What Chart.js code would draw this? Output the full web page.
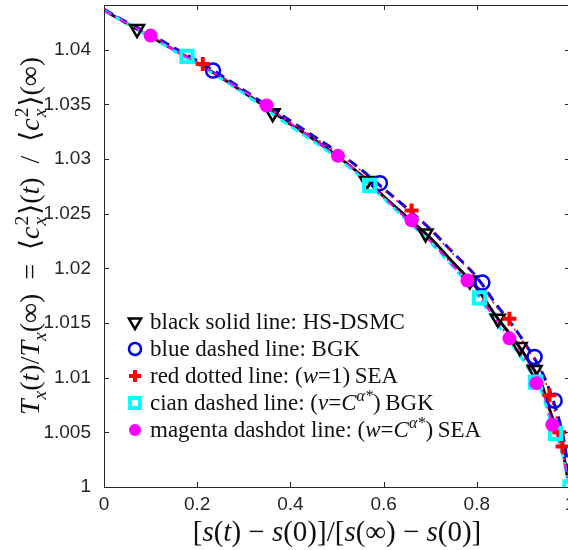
<!DOCTYPE html>
<html>
<head>
<meta charset="utf-8">
<script src="https://cdn.jsdelivr.net/npm/chart.js@4/dist/chart.umd.min.js"></script>
<style>
  html, body { margin: 0; padding: 0; background: #fff; overflow: hidden; }
  canvas { display: block; }
</style>
</head>
<body>
<canvas id="temp-chart" width="572" height="550"></canvas>
<script>
// s-axis samples for the five curves
const S_GRID = [0, 0.05, 0.1, 0.15, 0.2, 0.25, 0.3, 0.35, 0.4, 0.45, 0.5, 0.55, 0.6, 0.65, 0.7, 0.75, 0.8, 0.84, 0.88, 0.91, 0.94, 0.96, 0.975, 0.985, 0.992, 1];

// T_x(t)/T_x(inf)
const HS_DSMC = [1.0436, 1.0424, 1.0412, 1.0400, 1.0388, 1.0375, 1.0361, 1.0347, 1.0332, 1.0318, 1.0303, 1.0286, 1.0266, 1.0247, 1.0228, 1.0205, 1.0182, 1.0157, 1.0135, 1.0116, 1.0093, 1.0066, 1.0048, 1.0033, 1.0015, 1.0000];
const BGK = [1.0437, 1.0425, 1.0414, 1.0402, 1.0390, 1.0377, 1.0363, 1.0349, 1.0335, 1.0321, 1.0307, 1.0291, 1.0273, 1.0255, 1.0236, 1.0214, 1.0192, 1.0168, 1.0146, 1.0127, 1.0105, 1.0084, 1.0064, 1.0047, 1.0029, 1.0000];
const SEA_W1 = [1.0437, 1.0425, 1.0413, 1.0401, 1.0389, 1.0376, 1.0362, 1.0348, 1.0334, 1.0320, 1.0306, 1.0290, 1.0272, 1.0254, 1.0235, 1.0213, 1.0191, 1.0166, 1.0145, 1.0126, 1.0104, 1.0080, 1.0056, 1.0038, 1.0022, 1.0000];
const BGK_CA = [1.0436, 1.0424, 1.0412, 1.0399, 1.0387, 1.0374, 1.0360, 1.0345, 1.0330, 1.0316, 1.0301, 1.0284, 1.0264, 1.0244, 1.0224, 1.0201, 1.0176, 1.0151, 1.0128, 1.0109, 1.0086, 1.0058, 1.0042, 1.0028, 1.0012, 1.0000];
const SEA_CA = [1.0436, 1.0424, 1.0413, 1.0400, 1.0388, 1.0375, 1.0362, 1.0348, 1.0333, 1.0318, 1.0303, 1.0286, 1.0265, 1.0245, 1.0225, 1.0202, 1.0178, 1.0153, 1.0131, 1.0112, 1.0089, 1.0061, 1.0044, 1.0030, 1.0013, 1.0000];

// marker positions
const HS_MARK_S = [0.071, 0.362, 0.564, 0.69, 0.785, 0.845, 0.892, 0.924];
const HS_MARK_T = [1.0419, 1.0342, 1.0280, 1.0232, 1.0189, 1.0154, 1.0128, 1.0107];
const BGK_MARK_S = [0.234, 0.592, 0.812, 0.924, 0.967];
const BGK_MARK_T = [1.0381, 1.0278, 1.0187, 1.0119, 1.0079];
const SEA_W1_MARK_S = [0.212, 0.66, 0.87, 0.956, 0.977, 0.984];
const SEA_W1_MARK_T = [1.0387, 1.0253, 1.0154, 1.0084, 1.0050, 1.0037];
const BGK_CA_MARK_S = [0.178, 0.57, 0.806, 0.926, 0.969, 1.0];
const BGK_CA_MARK_T = [1.0394, 1.0276, 1.0173, 1.0096, 1.0049, 1.0000];
const SEA_CA_MARK_S = [0.1, 0.349, 0.502, 0.66, 0.78, 0.87, 0.928, 0.962];
const SEA_CA_MARK_T = [1.0413, 1.0349, 1.0303, 1.0244, 1.0189, 1.0136, 1.0095, 1.0057];

const X_TICKS = [0, 0.2, 0.4, 0.6, 0.8, 1];
const Y_TICKS = [1, 1.005, 1.01, 1.015, 1.02, 1.025, 1.03, 1.035, 1.04];

// legend text, split in runs so the math parts can be italic / raised
const LEGEND_TEXT = [
  [{ t: 'black solid line: HS-DSMC' }],
  [{ t: 'blue dashed line: BGK' }],
  [{ t: 'red dotted line: (' }, { t: 'w', i: 1 }, { t: '=1)\u2009SEA' }],
  [{ t: 'cian dashed line: (' }, { t: '\u03bd', i: 1 }, { t: '=' }, { t: 'C', i: 1 }, { t: '\u03b1*', sup: 1, i: 1 }, { t: ')\u2009BGK' }],
  [{ t: 'magenta dashdot line: (' }, { t: 'w', i: 1 }, { t: '=' }, { t: 'C', i: 1 }, { t: '\u03b1*', sup: 1, i: 1 }, { t: ')\u2009SEA' }]
];
const X_TITLE = [
  { t: '[' }, { t: 's', i: 1 }, { t: '(' }, { t: 't', i: 1 }, { t: ')\u2005\u2212\u2005' }, { t: 's', i: 1 }, { t: '(0)]/[' },
  { t: 's', i: 1 }, { t: '(\u221e)\u2005\u2212\u2005' }, { t: 's', i: 1 }, { t: '(0)]' }
];
const Y_TITLE = [
  { t: 'T', i: 1 }, { t: 'x', i: 1, sub: 1 }, { t: '(' }, { t: 't', i: 1 }, { t: ')/' },
  { t: 'T', i: 1 }, { t: 'x', i: 1, sub: 1 }, { t: '(\u221e)\u2002=\u2002\u27e8' },
  { t: 'c', i: 1 }, { t: 'x', i: 1, stack: '2' }, { t: '\u27e9(' }, { t: 't', i: 1 }, { t: ')\u2002/\u2002\u27e8' },
  { t: 'c', i: 1 }, { t: 'x', i: 1, stack: '2' }, { t: '\u27e9(\u221e)' }
];

const SERIES = [
  { y: HS_DSMC, ms: HS_MARK_S, mt: HS_MARK_T, color: '#000000', width: 3, dash: [], style: 'triangle', rot: 180, r: 8, bw: 2.5, fill: 'rgba(0,0,0,0)' },
  { y: BGK, ms: BGK_MARK_S, mt: BGK_MARK_T, color: '#0000ee', width: 3, dash: [10, 6], style: 'circle', rot: 0, r: 7, bw: 2.5, fill: 'rgba(0,0,0,0)' },
  { y: SEA_W1, ms: SEA_W1_MARK_S, mt: SEA_W1_MARK_T, color: '#ff0000', width: 1.5, dash: [2, 5], style: 'cross', rot: 0, r: 7, bw: 4, fill: '#ff0000' },
  { y: BGK_CA, ms: BGK_CA_MARK_S, mt: BGK_CA_MARK_T, color: '#00ffff', width: 3, dash: [8, 5], style: 'rect', rot: 0, r: 8, bw: 4, fill: 'rgba(0,0,0,0)' },
  { y: SEA_CA, ms: SEA_CA_MARK_S, mt: SEA_CA_MARK_T, color: '#ff00ff', width: 2, dash: [8, 4, 2, 4], style: 'circle', rot: 0, r: 7, bw: 0, fill: '#ff00ff' }
];

const AXIS_COLOR = '#262626';
const serif = (size, italic) => `${italic ? 'italic ' : ''}${size}px "Liberation Serif", "DejaVu Serif", serif`;

// lay out a run list: returns pieces with x offsets and total width
const layoutRich = (ctx, segs, size) => {
  let w = 0;
  const items = [];
  segs.forEach(s => {
    const small = size * 0.7;
    if (s.stack) {
      const f1 = serif(small, true), f2 = serif(small, false);
      ctx.font = f1; const w1 = ctx.measureText(s.t).width;
      ctx.font = f2; const w2 = ctx.measureText(s.stack).width;
      items.push({ t: s.t, x: w + 1, dy: size * 0.26, f: f1 });
      items.push({ t: s.stack, x: w + 1, dy: -size * 0.38, f: f2 });
      w += Math.max(w1, w2) + 2;
    } else {
      const f = serif(s.sub || s.sup ? small : size, s.i);
      ctx.font = f;
      items.push({ t: s.t, x: w, dy: s.sub ? size * 0.26 : s.sup ? -size * 0.4 : 0, f });
      w += ctx.measureText(s.t).width;
    }
  });
  return { items, w };
};

const drawRich = (ctx, segs, x, y, size, align) => {
  const { items, w } = layoutRich(ctx, segs, size);
  const x0 = align === 'center' ? x - w / 2 : x;
  ctx.textBaseline = 'alphabetic';
  ctx.textAlign = 'left';
  items.forEach(it => {
    ctx.font = it.f;
    ctx.fillText(it.t, x0 + it.x, y + it.dy);
  });
};

const decorPlugin = {
  id: 'decor',
  afterDraw(chart) {
    const { ctx, chartArea: a, scales } = chart;
    ctx.save();
    // frame
    ctx.strokeStyle = AXIS_COLOR;
    ctx.lineWidth = 1;
    ctx.strokeRect(a.left + 0.5, a.top + 0.5, a.right - a.left, a.bottom - a.top);
    // inward tick marks on all four sides
    const len = 5;
    ctx.beginPath();
    X_TICKS.forEach(v => {
      const px = Math.round(scales.x.getPixelForValue(v)) + 0.5;
      ctx.moveTo(px, a.bottom); ctx.lineTo(px, a.bottom - len);
      ctx.moveTo(px, a.top); ctx.lineTo(px, a.top + len);
    });
    Y_TICKS.forEach(v => {
      const py = Math.round(scales.y.getPixelForValue(v)) + 0.5;
      ctx.moveTo(a.left, py); ctx.lineTo(a.left + len, py);
      ctx.moveTo(a.right, py); ctx.lineTo(a.right - len, py);
    });
    ctx.stroke();

    ctx.fillStyle = '#111';
    // axis titles
    drawRich(ctx, X_TITLE, (a.left + a.right) / 2, 541, 29, 'center');
    ctx.save();
    ctx.translate(31, 236);
    ctx.rotate(-Math.PI / 2);
    drawRich(ctx, Y_TITLE, 0, 8, 28, 'center');
    ctx.restore();

    // legend inside the axes
    const rows = [322, 349, 376, 403, 430];
    SERIES.forEach((s, i) => {
      ctx.save();
      ctx.strokeStyle = s.color;
      ctx.fillStyle = s.fill;
      ctx.lineWidth = s.bw;
      Chart.helpers.drawPoint(ctx, { pointStyle: s.style, radius: s.r - 1, rotation: s.rot, borderWidth: s.bw }, 135, rows[i]);
      ctx.restore();
      ctx.fillStyle = '#111';
      drawRich(ctx, LEGEND_TEXT[i], 150, rows[i] + 7, 23, 'left');
    });
    ctx.restore();
  }
};

const lineSets = SERIES.map((s, i) => ({
  data: S_GRID.map((x, k) => ({ x, y: s.y[k] })),
  borderColor: s.color,
  borderWidth: s.width,
  borderDash: s.dash,
  pointRadius: 0,
  fill: false,
  cubicInterpolationMode: 'monotone',
  order: 10 + (SERIES.length - i)
}));

const markSets = SERIES.map((s, i) => ({
  data: s.ms.map((x, k) => ({ x, y: s.mt[k] })),
  showLine: false,
  pointStyle: s.style,
  pointRotation: s.rot,
  pointRadius: s.r,
  pointBorderWidth: s.bw,
  pointBorderColor: s.color,
  pointBackgroundColor: s.fill,
  order: SERIES.length - i
}));

new Chart(document.getElementById('temp-chart').getContext('2d'), {
  type: 'line',
  data: { datasets: [...lineSets, ...markSets] },
  options: {
    responsive: false,
    animation: false,
    layout: { autoPadding: false, padding: { top: 5, right: 2, left: 0, bottom: 0 } },
    plugins: { legend: { display: false }, tooltip: { enabled: false } },
    scales: {
      x: {
        type: 'linear',
        min: 0,
        max: 1,
        grid: { display: false },
        border: { display: false },
        afterBuildTicks: s => { s.ticks = X_TICKS.map(v => ({ value: v })); },
        afterFit: s => { s.height = 63; s.paddingLeft = 0; s.paddingRight = 0; },
        ticks: {
          padding: -2,
          maxRotation: 0,
          autoSkip: false,
          color: AXIS_COLOR,
          font: { family: '"Liberation Sans", Arial, sans-serif', size: 19 },
          callback: v => String(+v.toFixed(1))
        }
      },
      y: {
        type: 'linear',
        min: 1,
        max: 1.0441,
        grid: { display: false },
        border: { display: false },
        afterBuildTicks: s => { s.ticks = Y_TICKS.map(v => ({ value: v })); },
        afterFit: s => { s.width = 104; s.paddingTop = 0; s.paddingBottom = 0; },
        ticks: {
          padding: 5,
          autoSkip: false,
          color: AXIS_COLOR,
          font: { family: '"Liberation Sans", Arial, sans-serif', size: 19 },
          callback: v => String(+v.toFixed(3))
        }
      }
    }
  },
  plugins: [decorPlugin]
});
</script>
</body>
</html>
